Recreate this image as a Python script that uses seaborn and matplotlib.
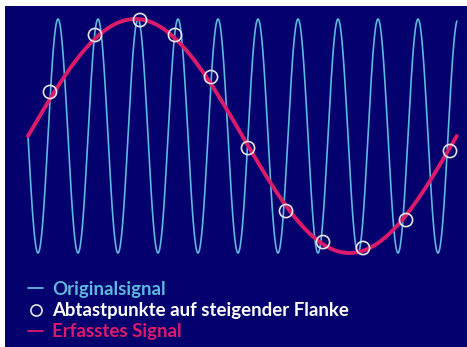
import numpy as np
import pandas as pd
import seaborn as sns
import matplotlib.pyplot as plt
from matplotlib.lines import Line2D

sns.set_theme(style="white")
plt.rcParams["font.family"] = ["Lato", "DejaVu Sans"]

# signal parameters (time in periods of the original signal)
orig_cycles = 10.72          # length of the drawn signal, in original periods
orig_amp = 1.0
captured_cycles = 1.0        # captured (aliased) signal: one period over the whole span
captured_amp = 1.0

# sample points on the rising clock edge
sample_t = [0.55, 1.675, 2.8, 3.675, 4.575, 5.5, 6.45, 7.375, 8.375, 9.45, 10.55]
sample_v = [0.376, 0.863, 0.991, 0.863, 0.504, -0.103, -0.641, -0.906, -0.957, -0.718, -0.128]

labels = ["Originalsignal", "Abtastpunkte auf steigender Flanke", "Erfasstes Signal"]

navy = "#04006e"
cyan = "#5cb8dc"
magenta = "#dc1a6a"
ring = "#e4e4e4"

t = np.linspace(0, orig_cycles, 3000)
df = pd.DataFrame({
    "t": t,
    "original": -orig_amp * np.sin(2 * np.pi * t),
    "captured": captured_amp * np.sin(2 * np.pi * captured_cycles * t / orig_cycles),
})
samples = pd.DataFrame({"t": sample_t, "v": sample_v})

fig = plt.figure(figsize=(4.67, 3.47), dpi=100, facecolor="white")
ax = fig.add_axes([5 / 467, 0, 462 / 467, 341 / 347])
ax.set_facecolor(navy)

sns.lineplot(data=df, x="t", y="original", ax=ax, color=cyan, lw=1.2, zorder=2)
sns.lineplot(data=df, x="t", y="captured", ax=ax, color=magenta, lw=2.8, zorder=3)
sns.scatterplot(data=samples, x="t", y="v", ax=ax, marker="o", s=90,
                facecolor="none", edgecolor=ring, linewidth=1.2, zorder=4)

ax.set_xlim(-0.575, 10.975)
ax.set_ylim(-1.803, 1.111)
ax.set_axis_off()
ax.add_patch(plt.Rectangle((0, 0), 1, 1, transform=ax.transAxes, color=navy, zorder=0))

handles = [
    Line2D([], [], color=cyan, lw=1.3),
    Line2D([], [], color="none", marker="o", markersize=8, markerfacecolor="none",
           markeredgecolor=ring, markeredgewidth=1.2),
    Line2D([], [], color=magenta, lw=1.3),
]
leg = ax.legend(handles, labels, loc="lower left", bbox_to_anchor=(0.05, 0.02),
                frameon=False, borderpad=0, borderaxespad=0, handlelength=0.8,
                handletextpad=0.5, labelspacing=0.22,
                labelcolor=[cyan, "white", magenta],
                prop={"family": ["Lato", "DejaVu Sans"], "weight": "bold", "size": 13.4})

fig.savefig("out.png", dpi=100, facecolor="white")
